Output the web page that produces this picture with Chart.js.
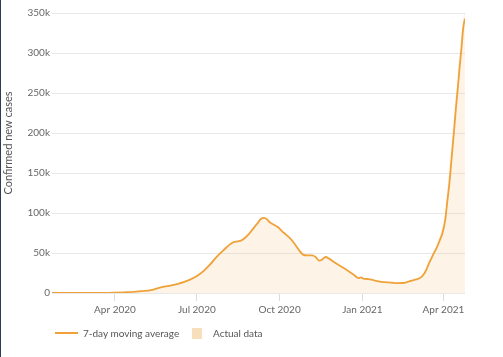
<!DOCTYPE html>
<html>
<head>
<meta charset="utf-8">
<script src="https://cdn.jsdelivr.net/npm/chart.js@4.4.1/dist/chart.umd.min.js"></script>
<style>
  html, body { margin: 0; padding: 0; background: #fff; }
  #wrap { position: relative; width: 503px; height: 357px; overflow: hidden; }
  #c { position: absolute; left: 0; top: 0; }
  .edge { position: absolute; left: 0; top: 0; width: 1px; height: 357px; background: #2d3b55; }
  .lg { position: absolute; font-family: Lato, sans-serif; font-size: 10px; color: #555; line-height: 12px; white-space: nowrap; }
  .lg-line { position: absolute; left: 55px; top: 332px; width: 23px; height: 2px; background: #f0a23a; }
  .lg-box { position: absolute; left: 192px; top: 328px; width: 10px; height: 11px; background: #f7dfbb; }
</style>
</head>
<body>
<div id="wrap">
  <canvas id="c" width="503" height="357"></canvas>
  <div class="edge"></div>
  <div class="lg-line"></div>
  <div class="lg" style="left:83px; top:327px;">7-day moving average</div>
  <div class="lg-box"></div>
  <div class="lg" style="left:213px; top:327px;">Actual data</div>
</div>
<script>
// Day offsets are counted from 22 Jan 2020.
const startDate = '2020-01-22';
const days = [0, 38, 50, 60, 70, 80, 90, 100, 110, 121, 130, 140, 147, 154, 162, 169, 176, 182, 191, 200, 206, 210, 214, 219, 223, 228, 232, 236, 239, 242, 247, 251, 255, 260, 265, 270, 275, 279, 284, 289, 293, 297, 300, 304, 308, 313, 320, 328, 335, 341, 343, 346, 350, 355, 360, 366, 372, 378, 385, 390, 395, 400, 405, 410, 413, 416, 419, 422, 425, 428, 431, 434, 437, 439, 442, 444, 447, 449, 451, 453, 455, 457, 458, 459];
const avgCases = [0, 0, 30, 150, 500, 900, 1400, 2400, 3600, 7000, 9000, 11500, 13800, 17000, 22000, 28000, 36000, 44000, 54000, 62500, 64500, 65500, 68500, 74000, 79500, 86500, 92500, 94000, 92000, 88500, 85000, 82500, 78000, 73000, 68000, 61000, 53000, 48000, 47000, 47000, 45000, 40500, 41500, 45000, 43000, 39000, 34000, 28500, 23000, 18500, 19500, 18000, 17500, 16800, 15200, 14000, 13400, 12800, 12400, 12500, 13800, 15500, 17000, 19500, 23000, 29000, 37000, 44000, 51000, 57500, 66000, 75000, 91000, 111000, 141000, 167000, 205000, 232000, 256000, 282000, 305000, 331000, 338000, 343000];

const actualDays = [0, 38, 50, 60, 70, 80, 90, 100, 110, 121, 130, 140, 147, 154, 162, 169, 176, 182, 191, 200, 206, 210, 214, 219, 223, 228, 232, 236, 239, 242, 247, 251, 255, 260, 265, 270, 275, 279, 284, 289, 293, 297, 300, 304, 308, 313, 320, 328, 335, 341, 343, 344.4, 345, 345.6, 346, 350, 355, 360, 366, 372, 378, 385, 390, 395, 400, 405, 410, 413, 416, 419, 422, 425, 428, 431, 434, 437, 440, 443, 446, 449, 452, 455, 457, 459];
const actualCases = [0, 0, 40, 200, 600, 1000, 1600, 2700, 4000, 7500, 9500, 12000, 14500, 18000, 23500, 30000, 38000, 46000, 56000, 63500, 65000, 66500, 70000, 76000, 82000, 88500, 94000, 95000, 92000, 88000, 84500, 81500, 77000, 72000, 66500, 59500, 52000, 47500, 47000, 46500, 44000, 40000, 42000, 45500, 42500, 38500, 33000, 27500, 22000, 18500, 19500, 19500, 30000, 19000, 18000, 17200, 16500, 15000, 13800, 13200, 12600, 12300, 12700, 14200, 16000, 17800, 21000, 26000, 33000, 41000, 48000, 55000, 63000, 72000, 83000, 100000, 140000, 175000, 215000, 250000, 290000, 325000, 345000, 352000];

const tickDays = [70, 161, 253, 345, 435];
const tickLabels = ['Apr 2020', 'Jul 2020', 'Oct 2020', 'Jan 2021', 'Apr 2021'];
const yTickValues = [0, 50000, 100000, 150000, 200000, 250000, 300000, 350000];
const yTickLabels = ['0', '50k', '100k', '150k', '200k', '250k', '300k', '350k'];
const yTitle = 'Confirmed new cases';

const lineColor = '#f0a23a';
const areaColor = 'rgba(243, 186, 110, 0.17)';

const avgPoints = days.map((d, i) => ({ x: d, y: avgCases[i] }));
const actualPoints = actualDays.map((d, i) => ({ x: d, y: actualCases[i] }));

// Draws the y-axis title, centred a little above the plot's middle as in the source.
const yTitlePlugin = {
  id: 'yTitle',
  afterDraw(chart) {
    const ctx = chart.ctx;
    ctx.save();
    ctx.translate(8, 143);
    ctx.rotate(-Math.PI / 2);
    ctx.font = '11px Lato';
    ctx.fillStyle = '#555';
    ctx.textAlign = 'center';
    ctx.textBaseline = 'middle';
    ctx.fillText(yTitle, 0, 0);
    ctx.restore();
  }
};

new Chart(document.getElementById('c'), {
  type: 'line',
  data: {
    datasets: [
      {
        label: '7-day moving average',
        data: avgPoints,
        borderColor: lineColor,
        borderWidth: 1.8,
        pointRadius: 0,
        fill: false,
        cubicInterpolationMode: 'monotone',
        order: 0
      },
      {
        label: 'Actual data',
        data: actualPoints,
        borderWidth: 0,
        borderColor: 'rgba(0,0,0,0)',
        backgroundColor: areaColor,
        pointRadius: 0,
        fill: 'origin',
        tension: 0,
        order: 1
      }
    ]
  },
  plugins: [yTitlePlugin],
  options: {
    responsive: false,
    animation: false,
    layout: { padding: { left: 0, top: 13, right: 38, bottom: 34 } },
    plugins: { legend: { display: false }, tooltip: { enabled: false } },
    scales: {
      x: {
        type: 'linear',
        min: 0,
        max: 459,
        afterBuildTicks: (s) => { s.ticks = tickDays.map(v => ({ value: v })); },
        afterFit: (s) => { s.height = 30; },
        ticks: {
          autoSkip: false,
          maxRotation: 0,
          minRotation: 0,
          padding: 3,
          color: '#666',
          font: { family: 'Lato', size: 10 },
          callback: (v) => { const i = tickDays.indexOf(v); return i >= 0 ? tickLabels[i] : ''; }
        },
        grid: { drawOnChartArea: false, drawTicks: true, tickLength: 8, color: '#dcdcdc' },
        border: { display: false }
      },
      y: {
        min: 0,
        max: 350000,
        afterBuildTicks: (s) => { s.ticks = yTickValues.map(v => ({ value: v })); },
        afterFit: (s) => { s.width = 52; },
        ticks: {
          padding: 2,
          color: '#666',
          font: { family: 'Lato', size: 10 },
          callback: (v) => { const i = yTickValues.indexOf(v); return i >= 0 ? yTickLabels[i] : ''; }
        },
        grid: { drawTicks: false, color: '#e8e8e8' },
        border: { display: false }
      }
    }
  }
});
</script>
</body>
</html>
